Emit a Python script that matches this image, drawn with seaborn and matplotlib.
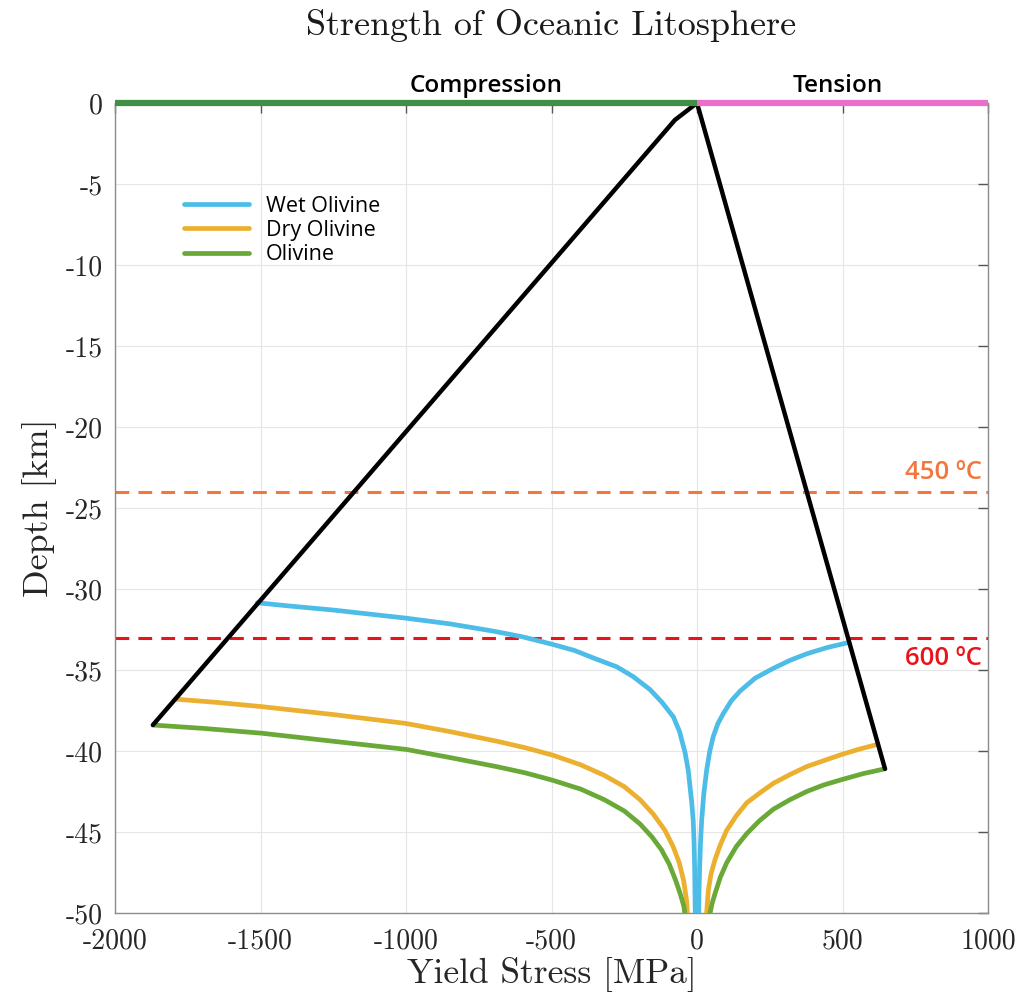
import pandas as pd
import numpy as np
import matplotlib
matplotlib.use('Agg')
import matplotlib.pyplot as plt
from matplotlib.ticker import FuncFormatter
import seaborn as sns

# ── Data ────────────────────────────────────────────────────
# brittle envelope (Byerlee), compression end -> surface -> tension end
env_x = [-1870, -76, 0, 646]
env_y = [-38.4, -1.05, 0, -41.1]

# ductile curves, compression branch (x<0) and tension branch (x>0)
wet_comp_x = [-1511, -1400, -1250, -1100, -1000, -850, -700, -600, -500, -420, -350, -276,
              -220, -162, -120, -81, -60, -41, -30, -24, -18, -13, -10, -8, -7, -6]
wet_comp_y = [-30.85, -31.05, -31.3, -31.6, -31.8, -32.15, -32.6, -32.95, -33.4, -33.8, -34.3, -34.8,
              -35.4, -36.2, -37.0, -37.9, -38.8, -40.1, -41.2, -42.2, -43.2, -44.3, -45.7, -47.3, -48.7, -50.0]
wet_tens_x = [6, 7, 9, 12, 16, 23, 33, 44, 56, 72, 90, 118, 148, 200, 262, 320, 377, 450, 522]
wet_tens_y = [-50.0, -48.7, -47.3, -45.7, -44.3, -42.7, -41.2, -40.0, -39.1, -38.3, -37.7, -36.9,
              -36.3, -35.5, -34.9, -34.4, -34.0, -33.6, -33.3]

dry_comp_x = [-1791, -1650, -1497, -1250, -1000, -850, -687, -590, -497, -400, -319, -250,
              -196, -150, -110, -82, -61, -46, -36, -33]
dry_comp_y = [-36.8, -37.0, -37.26, -37.75, -38.3, -38.8, -39.4, -39.8, -40.25, -40.85, -41.5, -42.2,
              -43.0, -43.9, -44.9, -45.9, -46.9, -48.0, -49.2, -50.0]
dry_tens_x = [33, 39, 48, 62, 80, 102, 135, 171, 215, 262, 320, 377, 435, 491, 555, 618]
dry_tens_y = [-50.0, -48.6, -47.6, -46.7, -45.8, -44.9, -44.0, -43.2, -42.6, -42.0, -41.45, -40.96,
              -40.6, -40.25, -39.9, -39.6]

oli_comp_x = [-1867, -1700, -1497, -1250, -1000, -850, -687, -590, -497, -400, -319, -250,
              -196, -155, -122, -95, -73, -56, -45, -42]
oli_comp_y = [-38.4, -38.6, -38.9, -39.4, -39.9, -40.4, -40.97, -41.35, -41.8, -42.35, -43.0, -43.7,
              -44.5, -45.3, -46.1, -47.0, -48.0, -48.9, -49.6, -50.0]
oli_tens_x = [45, 52, 62, 80, 102, 135, 171, 215, 262, 320, 377, 435, 491, 570, 646]
oli_tens_y = [-50.0, -49.4, -48.8, -47.8, -46.9, -45.9, -45.1, -44.3, -43.6, -43.0, -42.5, -42.1,
              -41.8, -41.4, -41.1]

rocks = ['Wet Olivine', 'Dry Olivine', 'Olivine']
rock_colors = ['#4dbde8', '#ebb030', '#6aa938']

isotherm_depth = [-24, -33]
isotherm_label = ['450 ºC', '600 ºC']
isotherm_color = ['#f2773f', '#e8141b']
isotherm_text_shift = [1.2, -1.3]  # label above / below the line

regime_label = ['Compression', 'Tension']
regime_x = [-725, 485]
regime_span = [[-2000, 0], [0, 1000]]
regime_color = ['#3f8f44', '#ea6fcb']

# ── Build long table ───────────────────────────────────────
parts = []
for rock, cx, cy, tx, ty in [
        ('Wet Olivine', wet_comp_x, wet_comp_y, wet_tens_x, wet_tens_y),
        ('Dry Olivine', dry_comp_x, dry_comp_y, dry_tens_x, dry_tens_y),
        ('Olivine', oli_comp_x, oli_comp_y, oli_tens_x, oli_tens_y)]:
    parts.append(pd.DataFrame({'stress': cx, 'depth': cy, 'rock': rock, 'branch': rock + '_c'}))
    parts.append(pd.DataFrame({'stress': tx, 'depth': ty, 'rock': rock, 'branch': rock + '_t'}))
df = pd.concat(parts, ignore_index=True)

# ── Style ──────────────────────────────────────────────────
sns.set_theme(style='whitegrid')
plt.rcParams['font.family'] = ['cmr10', 'DejaVu Serif']
plt.rcParams['mathtext.fontset'] = 'cm'
plt.rcParams['axes.unicode_minus'] = False
sans = ['Open Sans', 'DejaVu Sans']

fig = plt.figure(figsize=(10.24, 10.02), dpi=100)
ax = fig.add_axes([115 / 1024, 1 - 913 / 1002, 873 / 1024, 810 / 1002])

# isotherms
for d, lab, c, sh in zip(isotherm_depth, isotherm_label, isotherm_color, isotherm_text_shift):
    ax.axhline(d, color=c, lw=2.2, dashes=(4.5, 3), zorder=2)
    ax.text(978, d + sh, lab, color=c, ha='right', va='center',
            fontsize=18.5, family=sans, fontweight='semibold')

# ductile curves
sns.lineplot(data=df, x='stress', y='depth', hue='rock', units='branch',
             estimator=None, sort=False, palette=dict(zip(rocks, rock_colors)),
             hue_order=rocks, lw=3.4, ax=ax, zorder=3)

# brittle envelope
ax.plot(env_x, env_y, color='black', lw=3.2, zorder=4, solid_joinstyle='miter')

# top regime bars
for lab, xm, span, c in zip(regime_label, regime_x, regime_span, regime_color):
    ax.plot(span, [0, 0], color=c, lw=4.5, clip_on=False, zorder=5, solid_capstyle='butt')
    ax.annotate(lab, xy=(xm, 0), xytext=(0, 8), textcoords='offset points',
                ha='center', va='baseline', fontsize=17.5, annotation_clip=False,
                family=sans, fontweight='semibold', color='black')

ax.set_xlim(-2000, 1000)
ax.set_ylim(-50, 0)
ax.set_xticks(np.arange(-2000, 1001, 500))
ax.set_yticks(np.arange(-50, 1, 5))
fmt = FuncFormatter(lambda v, _: f'{v:g}')
ax.xaxis.set_major_formatter(fmt)
ax.yaxis.set_major_formatter(fmt)
ax.grid(True, color='#e6e6e6', lw=0.8)
for s in ax.spines.values():
    s.set_visible(True)
    s.set_color('#8c8c8c')
    s.set_linewidth(1.0)
ax.spines['top'].set_visible(False)
ax.tick_params(direction='in', length=7, width=1, color='#555555', labelsize=20,
               labelcolor='#262626', top=True, right=True)
ax.tick_params(axis='x', pad=11)
ax.tick_params(axis='y', pad=9)

ax.set_xlabel('Yield Stress [MPa]', fontsize=25.5, color='#262626', labelpad=2)
ax.set_ylabel('Depth [km]', fontsize=26, color='#262626', labelpad=6)
fig.text(551 / 1024, 1 - 25 / 1002, 'Strength of Oceanic Litosphere', ha='center', va='center',
         fontsize=26, color='#1a1a1a')

leg = ax.legend(loc='upper left', bbox_to_anchor=(0.067, 0.899), frameon=False,
                handlelength=3.0, handletextpad=0.8, labelspacing=0.16, borderpad=0,
                prop={'family': sans, 'size': 15.5})
for t in leg.get_texts():
    t.set_color('black')
for h in leg.get_lines():
    h.set_linewidth(3.4)

fig.savefig('out.png', dpi=100)
